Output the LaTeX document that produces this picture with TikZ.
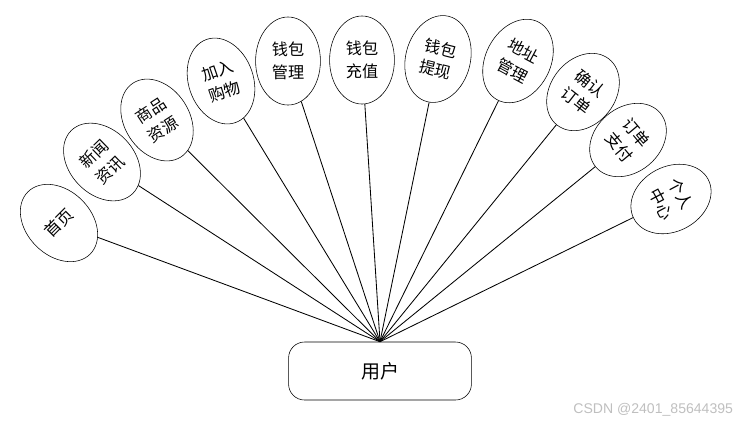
\documentclass[tikz,border=0pt]{standalone}
\usepackage{fontspec}
\usepackage{tikz}
\usetikzlibrary{shapes.geometric}
\newfontfamily\cjk{Noto Sans CJK SC}
\newfontfamily\wmfont{Liberation Sans}

\tikzset{
  func/.style={ellipse,draw,thin,fill=white,inner sep=0pt,
    minimum width=1.62cm,minimum height=2.2cm,align=center,
    font=\cjk\fontsize{11.5}{16}\selectfont},
  userbox/.style={draw,thin,rounded corners=0.4cm,minimum width=4.57cm,
    minimum height=1.45cm,font=\cjk\fontsize{13.5}{16}\selectfont},
  link/.style={semithick}
}

\begin{document}
\begin{tikzpicture}[x=0.025cm,y=-0.025cm]
\useasboundingbox (0,0) rectangle (754,424);

\node[userbox] (U) at (380,371) {用户};

\node[func,rotate=45] (A) at (59,223) {首页};
\node[func,rotate=44] (B) at (102,162) {新闻\\资讯};
\node[func,rotate=33] (C) at (157,120) {商品\\资源};
\node[func,rotate=19] (D) at (221,81) {加入\\购物};
\node[func] (E) at (288,61) {钱包\\管理};
\node[func] (F) at (362,60) {钱包\\充值};
\node[func,rotate=-14] (G) at (438,59) {钱包\\提现};
\node[func,rotate=-28] (H) at (518,61) {地址\\管理};
\node[func,rotate=-38,minimum height=2.1cm] (I) at (583,92) {确认\\订单};
\node[func,rotate=-50,minimum height=2.1cm] (J) at (628,140) {订单\\支付};
\node[func,rotate=-62,minimum height=2.1cm] (K) at (671,199) {个人\\中心};

% every function hangs off the user box
\foreach \n in {A,B,C,D,E,F,G,H,I,J,K}
  \draw[link] (U.north) -- (\n);

\node[anchor=east,text=black!25,font=\wmfont\fontsize{10}{11}\selectfont] (W) at (738,410) {CSDN @2401\_85644395};
\end{tikzpicture}
\end{document}
